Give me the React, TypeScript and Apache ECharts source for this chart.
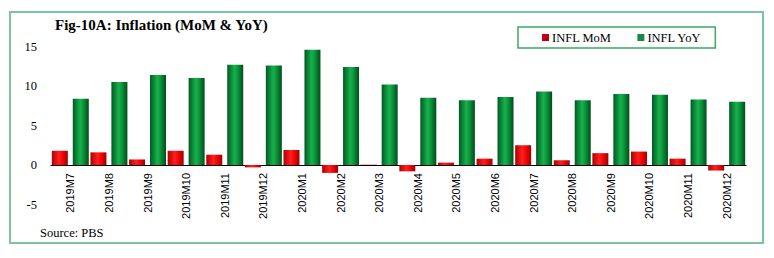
import React, { useEffect, useRef } from "react";
import * as echarts from "echarts";

const categories = [
  "2019M7", "2019M8", "2019M9", "2019M10", "2019M11", "2019M12",
  "2020M1", "2020M2", "2020M3", "2020M4", "2020M5", "2020M6",
  "2020M7", "2020M8", "2020M9", "2020M10", "2020M11", "2020M12",
];
const momValues = [1.8, 1.6, 0.7, 1.8, 1.3, -0.3, 1.9, -1.0, 0.04, -0.8, 0.3, 0.8, 2.5, 0.6, 1.5, 1.7, 0.8, -0.7];
const yoyValues = [8.4, 10.5, 11.4, 11.0, 12.7, 12.6, 14.6, 12.4, 10.2, 8.5, 8.2, 8.6, 9.3, 8.2, 9.0, 8.9, 8.3, 8.0];
const yTicks = { min: -5, max: 15, interval: 5 };

const SERIF = "'Liberation Serif', 'DejaVu Serif', serif";
const SANS = "'Liberation Sans', Arial, sans-serif";

export default function App() {
  const ref = useRef<HTMLDivElement>(null);
  useEffect(() => {
    if (!ref.current) return;
    const chart = echarts.init(ref.current, undefined, { renderer: "svg" });
    const redGrad = new echarts.graphic.LinearGradient(0, 0, 1, 0, [
      { offset: 0, color: "#b00000" },
      { offset: 0.45, color: "#ff2020" },
      { offset: 0.6, color: "#ff0a0a" },
      { offset: 1, color: "#a00000" },
    ]);
    const greenGrad = new echarts.graphic.LinearGradient(0, 0, 1, 0, [
      { offset: 0, color: "#005a22" },
      { offset: 0.45, color: "#17b04c" },
      { offset: 0.6, color: "#0fa040" },
      { offset: 1, color: "#004d1c" },
    ]);
    const gridTop = 46.5;
    const gridBottom = 53.5;
    const plotH = 258 - gridTop - gridBottom;
    const zeroOffset = (plotH * (0 - yTicks.min)) / (yTicks.max - yTicks.min);
    chart.setOption({
      animation: false,
      backgroundColor: "#ffffff",
      grid: {
        left: 51,
        right: 28,
        top: gridTop,
        bottom: gridBottom,
        containLabel: false,
        outerBoundsMode: "none",
      },
      legend: {
        left: 518,
        top: 27,
        width: 195,
        height: 22,
        padding: [4, 14, 4, 24],
        itemGap: 26,
        itemWidth: 7,
        itemHeight: 7,
        icon: "rect",
        borderColor: "#3aaa62",
        borderWidth: 1.5,
        textStyle: { fontFamily: SERIF, fontSize: 12.5, color: "#000", padding: [0, 0, 0, -2] },
        data: [
          { name: "INFL MoM", itemStyle: { color: "#c00010" } },
          { name: "INFL YoY", itemStyle: { color: "#178a45" } },
        ],
      },
      graphic: [
        {
          type: "rect",
          shape: { x: 10, y: 12, width: 753, height: 231 },
          style: { fill: "none", stroke: "#7cc49c", lineWidth: 2 },
          silent: true,
        },
        {
          type: "text",
          x: 55,
          y: 25,
          style: {
            text: "Fig-10A: Inflation (MoM & YoY)",
            font: `bold 15px ${SERIF}`,
            fill: "#000",
            textVerticalAlign: "middle",
          },
        },
        {
          type: "text",
          x: 40,
          y: 233,
          style: {
            text: "Source: PBS",
            font: `12.5px ${SERIF}`,
            fill: "#000",
            textVerticalAlign: "middle",
          },
        },
      ],
      xAxis: {
        type: "category",
        data: categories,
        offset: -zeroOffset,
        axisLine: { onZero: false, lineStyle: { color: "#000", width: 1 } },
        axisTick: { show: false },
        axisLabel: {
          rotate: 90,
          interval: 0,
          margin: 8,
          fontFamily: SANS,
          fontSize: 11,
          color: "#000",
        },
      },
      yAxis: {
        type: "value",
        min: yTicks.min,
        max: yTicks.max,
        interval: yTicks.interval,
        splitLine: { show: false },
        axisLine: { show: false },
        axisTick: { show: false },
        axisLabel: { fontFamily: SERIF, fontSize: 12.5, color: "#000", margin: 14 },
      },
      series: [
        {
          name: "INFL MoM",
          type: "bar",
          data: momValues,
          barWidth: 16,
          barGap: "31%",
          itemStyle: { color: redGrad },
        },
        {
          name: "INFL YoY",
          type: "bar",
          data: yoyValues,
          barWidth: 16,
          barGap: "31%",
          itemStyle: { color: greenGrad },
        },
      ],
    });
    return () => chart.dispose();
  }, []);
  return (
    <div
      ref={ref}
      style={{ position: "fixed", left: 0, top: 0, width: 774, height: 258 }}
    />
  );
}
